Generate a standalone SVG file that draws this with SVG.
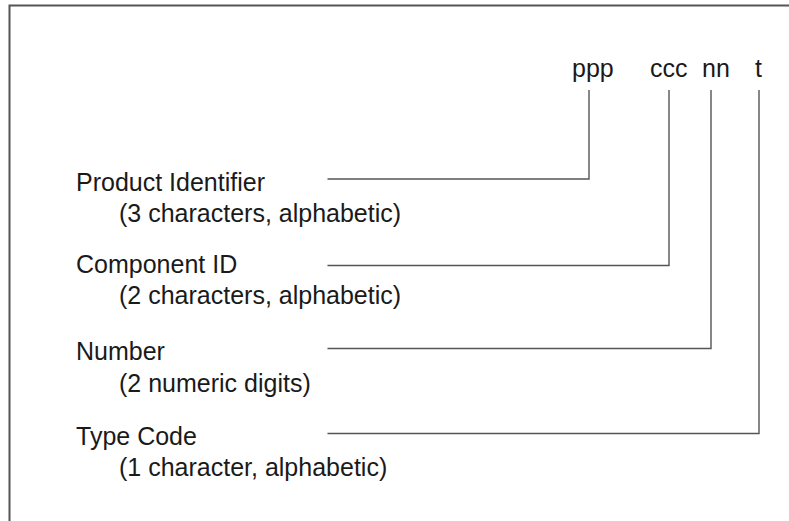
<svg xmlns="http://www.w3.org/2000/svg" width="789" height="521" viewBox="0 0 789 521">
<style>
.t{font-family:"Liberation Sans",Arial,sans-serif;font-size:25px;fill:#1a1a1a}
.c{fill:none;stroke:#555;stroke-width:1.4}
.f{fill:none;stroke:#555;stroke-width:2}
</style>
<rect width="789" height="521" fill="#fff"/>
<path class="f" d="M9.5,521 V5.5 H789"/>
<g id="codes">
<text class="t" x="572" y="77">ppp</text>
<text class="t" x="650" y="77">ccc</text>
<text class="t" x="702" y="77">nn</text>
<text class="t" x="755" y="77">t</text>
</g>
<g id="product">
<text class="t" x="76" y="191">Product Identifier</text>
<text class="t" x="119" y="222">(3 characters, alphabetic)</text>
</g>
<g id="component">
<text class="t" x="76" y="273">Component ID</text>
<text class="t" x="119" y="304">(2 characters, alphabetic)</text>
</g>
<g id="number">
<text class="t" x="76" y="360">Number</text>
<text class="t" x="119" y="392">(2 numeric digits)</text>
</g>
<g id="type">
<text class="t" x="76" y="445">Type Code</text>
<text class="t" x="119" y="476">(1 character, alphabetic)</text>
</g>
<g id="connectors">
<path class="c" d="M327.5,179 H589 V90"/>
<path class="c" d="M327.5,265.5 H669 V90"/>
<path class="c" d="M327.5,348.5 H711 V90"/>
<path class="c" d="M327.5,433.5 H759 V90"/>
</g>
</svg>
